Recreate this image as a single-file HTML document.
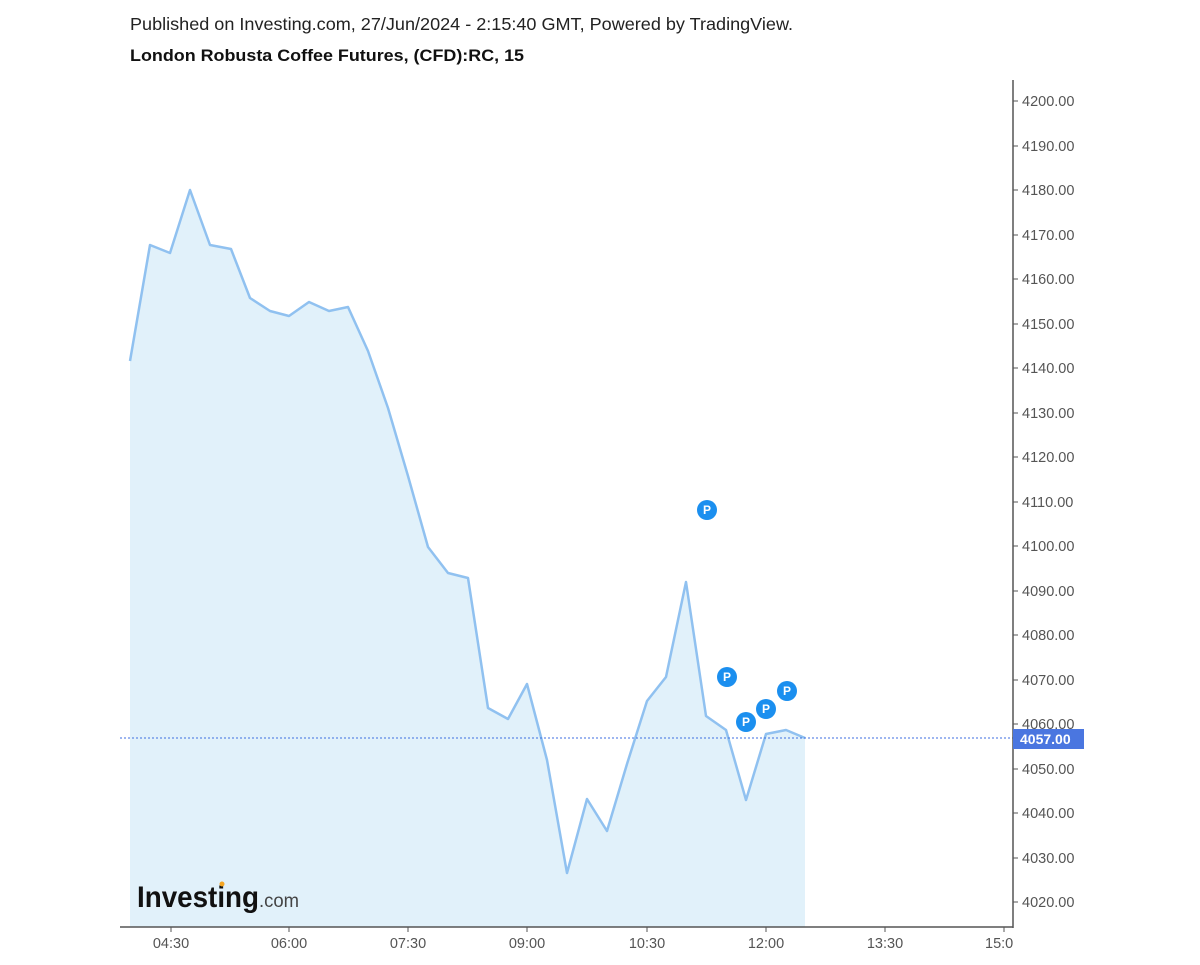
<!DOCTYPE html>
<html><head><meta charset="utf-8"><style>
body{margin:0;background:#fff;width:1200px;height:960px;overflow:hidden;font-family:"Liberation Sans",sans-serif}
</style></head><body>
<svg width="1200" height="960" xmlns="http://www.w3.org/2000/svg" font-family="Liberation Sans, sans-serif">
<text x="130" y="30" font-size="17.5" fill="#222" textLength="663" lengthAdjust="spacingAndGlyphs">Published on Investing.com, 27/Jun/2024 - 2:15:40 GMT, Powered by TradingView.</text>
<text x="130" y="61" font-size="17" font-weight="bold" fill="#111" textLength="394" lengthAdjust="spacingAndGlyphs">London Robusta Coffee Futures, (CFD):RC, 15</text>
<polygon fill="#e1f1fa" points="130,927 130,361 150,245 170,253 190,190 210,245 231,249 250,298 270,311 289,316 309,302 329,311 348,307 368,351 388,408 408,476 428,547 448,573 468,578 488,708 508,719 527,684 547,760 567,873 587,799 607,831 627,764 647,701 666,677 686,582 706,716 726,730 746,800 766,734 786,730 805,738 805,927"/>
<polyline fill="none" stroke="#90c1f0" stroke-width="2.5" stroke-linejoin="round" points="130,361 150,245 170,253 190,190 210,245 231,249 250,298 270,311 289,316 309,302 329,311 348,307 368,351 388,408 408,476 428,547 448,573 468,578 488,708 508,719 527,684 547,760 567,873 587,799 607,831 627,764 647,701 666,677 686,582 706,716 726,730 746,800 766,734 786,730 805,738"/>
<line x1="120" y1="738" x2="1013" y2="738" stroke="#3d6ee0" stroke-width="1" stroke-dasharray="2,2"/>
<g fill="#1b8fef">
<circle cx="707" cy="510" r="10"/><circle cx="727" cy="677" r="10"/><circle cx="746" cy="722" r="10"/><circle cx="766" cy="709" r="10"/><circle cx="787" cy="691" r="10"/></g>
<g fill="#fff" font-size="12" font-weight="bold" text-anchor="middle">
<text x="707" y="514">P</text><text x="727" y="681">P</text><text x="746" y="726">P</text><text x="766" y="713">P</text><text x="787" y="695">P</text></g>
<text x="137" y="907" font-size="30" font-weight="bold" fill="#111" textLength="122" lengthAdjust="spacingAndGlyphs">Investing</text>
<text x="259" y="907" font-size="19" fill="#444" textLength="40" lengthAdjust="spacingAndGlyphs">.com</text>
<circle cx="222" cy="884" r="2.5" fill="#f5a623"/>
<line x1="1013" y1="80" x2="1013" y2="928" stroke="#555" stroke-width="1.5"/>
<line x1="120" y1="927" x2="1013" y2="927" stroke="#555" stroke-width="1.5"/>
<g font-size="14.5" fill="#555">
<g stroke="#555"><line x1="1013" y1="101" x2="1018" y2="101"/><line x1="1013" y1="146" x2="1018" y2="146"/><line x1="1013" y1="190" x2="1018" y2="190"/><line x1="1013" y1="235" x2="1018" y2="235"/><line x1="1013" y1="279" x2="1018" y2="279"/><line x1="1013" y1="324" x2="1018" y2="324"/><line x1="1013" y1="368" x2="1018" y2="368"/><line x1="1013" y1="413" x2="1018" y2="413"/><line x1="1013" y1="457" x2="1018" y2="457"/><line x1="1013" y1="502" x2="1018" y2="502"/><line x1="1013" y1="546" x2="1018" y2="546"/><line x1="1013" y1="591" x2="1018" y2="591"/><line x1="1013" y1="635" x2="1018" y2="635"/><line x1="1013" y1="680" x2="1018" y2="680"/><line x1="1013" y1="724" x2="1018" y2="724"/><line x1="1013" y1="769" x2="1018" y2="769"/><line x1="1013" y1="813" x2="1018" y2="813"/><line x1="1013" y1="858" x2="1018" y2="858"/><line x1="1013" y1="902" x2="1018" y2="902"/>
<line x1="171" y1="927" x2="171" y2="932"/><line x1="289" y1="927" x2="289" y2="932"/><line x1="408" y1="927" x2="408" y2="932"/><line x1="527" y1="927" x2="527" y2="932"/><line x1="647" y1="927" x2="647" y2="932"/><line x1="766" y1="927" x2="766" y2="932"/><line x1="885" y1="927" x2="885" y2="932"/><line x1="1004" y1="927" x2="1004" y2="932"/></g>
<text x="1022" y="106">4200.00</text><text x="1022" y="151">4190.00</text><text x="1022" y="195">4180.00</text><text x="1022" y="240">4170.00</text><text x="1022" y="284">4160.00</text><text x="1022" y="329">4150.00</text><text x="1022" y="373">4140.00</text><text x="1022" y="418">4130.00</text><text x="1022" y="462">4120.00</text><text x="1022" y="507">4110.00</text><text x="1022" y="551">4100.00</text><text x="1022" y="596">4090.00</text><text x="1022" y="640">4080.00</text><text x="1022" y="685">4070.00</text><text x="1022" y="729">4060.00</text><text x="1022" y="774">4050.00</text><text x="1022" y="818">4040.00</text><text x="1022" y="863">4030.00</text><text x="1022" y="907">4020.00</text>
<g text-anchor="middle"><text x="171" y="948">04:30</text><text x="289" y="948">06:00</text><text x="408" y="948">07:30</text><text x="527" y="948">09:00</text><text x="647" y="948">10:30</text><text x="766" y="948">12:00</text><text x="885" y="948">13:30</text></g>
<text x="985" y="948">15:0</text>
</g>
<rect x="1013" y="729" width="71" height="20" fill="#4a76e0"/>
<text x="1020" y="744" font-size="14" font-weight="bold" fill="#fff">4057.00</text>
<rect x="1013" y="935" width="40" height="20" fill="#fff"/>
</svg>
</body></html>
